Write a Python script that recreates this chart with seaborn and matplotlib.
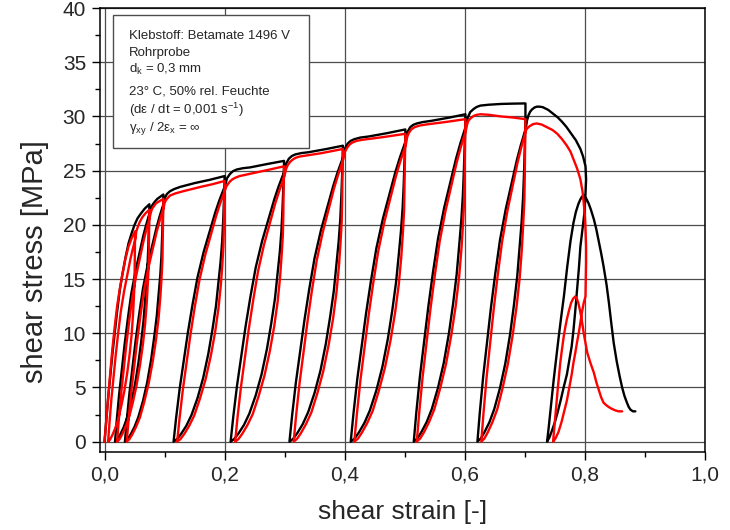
import matplotlib
matplotlib.use("Agg")
import matplotlib.pyplot as plt
import seaborn as sns
import pandas as pd
from matplotlib.patches import Rectangle
from matplotlib.ticker import MultipleLocator, FuncFormatter

# specimen 1 (black) - one continuous load / unload / reload path
# (one row per segment: initial loading, then unload, reload, plateau ...)
black_strain = [
    0.0, 0.003, 0.006, 0.0095, 0.013, 0.017, 0.021, 0.0255, 0.03, 0.035, 0.04, 0.045, 0.05, 0.055, 0.06, 0.067, 0.0747,
    0.0744, 0.0738, 0.0730, 0.0718, 0.0701, 0.0678, 0.0650, 0.0610, 0.0564, 0.0507, 0.0444, 0.0375, 0.0318, 0.0261, 0.0215, 0.0175,
    0.0204, 0.0244, 0.0289, 0.0335, 0.0387, 0.0444, 0.0513, 0.0587, 0.0644, 0.0690, 0.0718, 0.0736, 0.0753,
    0.077, 0.08, 0.084, 0.088, 0.093, 0.098,
    0.0977, 0.0970, 0.0961, 0.0948, 0.0929, 0.0903, 0.0871, 0.0826, 0.0775, 0.0711, 0.0641, 0.0564, 0.0500, 0.0436, 0.0385, 0.034,
    0.0372, 0.0417, 0.0468, 0.0519, 0.0577, 0.0641, 0.0718, 0.0801, 0.0865, 0.0916, 0.0948, 0.0967, 0.0986,
    0.101, 0.104, 0.109, 0.116, 0.126, 0.15, 0.175, 0.2,
    0.1996, 0.1987, 0.1975, 0.1958, 0.1932, 0.1898, 0.1856, 0.1796, 0.1728, 0.1643, 0.1550, 0.1448, 0.1363, 0.1278, 0.1210, 0.115,
    0.1193, 0.1252, 0.1320, 0.1388, 0.1465, 0.1550, 0.1652, 0.1762, 0.1847, 0.1915, 0.1958, 0.1983, 0.2009,
    0.204, 0.209, 0.214, 0.22, 0.23, 0.2425, 0.27, 0.299,
    0.2986, 0.2977, 0.2963, 0.2946, 0.2919, 0.2883, 0.2839, 0.2776, 0.2705, 0.2616, 0.2518, 0.2412, 0.2323, 0.2234, 0.2162, 0.210,
    0.2145, 0.2207, 0.2278, 0.2349, 0.2429, 0.2518, 0.2625, 0.2741, 0.2830, 0.2901, 0.2946, 0.2972, 0.2999,
    0.303, 0.307, 0.312, 0.318, 0.328, 0.34, 0.37, 0.397,
    0.3966, 0.3957, 0.3943, 0.3926, 0.3899, 0.3863, 0.3819, 0.3756, 0.3685, 0.3596, 0.3498, 0.3392, 0.3303, 0.3214, 0.3142, 0.308,
    0.3125, 0.3187, 0.3258, 0.3329, 0.3409, 0.3498, 0.3605, 0.3721, 0.3810, 0.3881, 0.3926, 0.3952, 0.3979,
    0.401, 0.405, 0.41, 0.416, 0.426, 0.44, 0.47, 0.501,
    0.5006, 0.4996, 0.4983, 0.4965, 0.4937, 0.4901, 0.4855, 0.4792, 0.4719, 0.4628, 0.4528, 0.4419, 0.4328, 0.4237, 0.4164, 0.410,
    0.4146, 0.4209, 0.4282, 0.4355, 0.4437, 0.4528, 0.4637, 0.4755, 0.4846, 0.4919, 0.4965, 0.4992, 0.5019,
    0.505, 0.509, 0.514, 0.52, 0.53, 0.545, 0.575, 0.601,
    0.6006, 0.5997, 0.5984, 0.5967, 0.5941, 0.5907, 0.5864, 0.5804, 0.5735, 0.5649, 0.5554, 0.5451, 0.5365, 0.5279, 0.5210, 0.515,
    0.5193, 0.5253, 0.5322, 0.5391, 0.5468, 0.5554, 0.5657, 0.5769, 0.5855, 0.5924, 0.5967, 0.5993, 0.6019,
    0.605, 0.609, 0.615, 0.62, 0.626, 0.64, 0.66, 0.68, 0.701,
    0.701, 0.6998, 0.6986, 0.6970, 0.6946, 0.6914, 0.6874, 0.6818, 0.6754, 0.6674, 0.6586, 0.6490, 0.6410, 0.6330, 0.6266, 0.621,
    0.6250, 0.6306, 0.6370, 0.6434, 0.6506, 0.6586, 0.6682, 0.6786, 0.6866, 0.6930, 0.6970, 0.6994, 0.7018,
    0.7035, 0.706, 0.709, 0.712, 0.716, 0.72, 0.725, 0.73, 0.739, 0.748, 0.755, 0.762, 0.769, 0.776, 0.785, 0.7925, 0.797, 0.801, 0.802, 0.801,
    0.8, 0.799, 0.796, 0.7925, 0.79, 0.787, 0.784, 0.781, 0.778, 0.774, 0.77, 0.765, 0.76, 0.755, 0.75, 0.745, 0.741, 0.737,
    0.7395, 0.742, 0.745, 0.748, 0.752, 0.756, 0.7605, 0.765, 0.7705, 0.776, 0.781, 0.785, 0.789, 0.792, 0.795, 0.798,
    0.802, 0.806, 0.81, 0.815, 0.819, 0.823, 0.827, 0.831, 0.836, 0.84, 0.844, 0.848, 0.853, 0.858, 0.862, 0.866, 0.870, 0.873, 0.876, 0.88, 0.884,
]
black_stress = [
    0.0, 2.0, 4.0, 6.0, 8.0, 10.0, 12.0, 14.0, 15.5, 17.0, 18.3, 19.2, 20.0, 20.6, 21.0, 21.5, 21.9,
    20.81, 19.71, 18.07, 16.43, 14.78, 13.14, 11.17, 9.20, 7.23, 5.26, 3.61, 2.19, 1.31, 0.66, 0.22, 0.0,
    1.97, 4.38, 6.68, 8.98, 11.28, 13.58, 15.66, 17.52, 18.94, 19.93, 20.48, 20.81, 21.13,
    21.55, 21.85, 22.15, 22.4, 22.6, 22.8,
    21.66, 20.52, 18.81, 17.10, 15.39, 13.68, 11.63, 9.58, 7.52, 5.47, 3.76, 2.28, 1.37, 0.68, 0.23, 0.0,
    2.05, 4.56, 6.95, 9.35, 11.74, 14.14, 16.30, 18.24, 19.72, 20.75, 21.32, 21.66, 22.0,
    22.55, 22.85, 23.1, 23.3, 23.5, 23.85, 24.15, 24.5,
    23.28, 22.05, 20.21, 18.38, 16.54, 14.70, 12.50, 10.29, 8.09, 5.88, 4.04, 2.45, 1.47, 0.74, 0.25, 0.0,
    2.21, 4.9, 7.47, 10.05, 12.62, 15.19, 17.52, 19.6, 21.19, 22.30, 22.91, 23.28, 23.64,
    24.3, 24.7, 24.95, 25.1, 25.22, 25.3, 25.6, 25.9,
    24.61, 23.31, 21.37, 19.43, 17.48, 15.54, 13.21, 10.88, 8.55, 6.22, 4.27, 2.59, 1.55, 0.78, 0.26, 0.0,
    2.33, 5.18, 7.90, 10.62, 13.34, 16.06, 18.52, 20.72, 22.40, 23.57, 24.22, 24.61, 24.99,
    25.7, 26.1, 26.35, 26.5, 26.62, 26.7, 27.0, 27.3,
    25.94, 24.57, 22.52, 20.48, 18.43, 16.38, 13.92, 11.47, 9.01, 6.55, 4.50, 2.73, 1.64, 0.82, 0.27, 0.0,
    2.46, 5.46, 8.33, 11.19, 14.06, 16.93, 19.52, 21.84, 23.61, 24.84, 25.53, 25.94, 26.34,
    27.1, 27.5, 27.75, 27.9, 28.05, 28.15, 28.45, 28.8,
    27.36, 25.92, 23.76, 21.6, 19.44, 17.28, 14.69, 12.10, 9.50, 6.91, 4.75, 2.88, 1.73, 0.86, 0.29, 0.0,
    2.59, 5.76, 8.78, 11.81, 14.83, 17.86, 20.59, 23.04, 24.91, 26.21, 26.93, 27.36, 27.79,
    28.6, 29.0, 29.22, 29.35, 29.48, 29.6, 29.9, 30.2,
    28.69, 27.18, 24.92, 22.65, 20.39, 18.12, 15.40, 12.68, 9.97, 7.25, 4.98, 3.02, 1.81, 0.91, 0.30, 0.0,
    2.72, 6.04, 9.21, 12.38, 15.55, 18.72, 21.59, 24.16, 26.12, 27.48, 28.24, 28.69, 29.14,
    29.9, 30.4, 30.7, 30.88, 31.0, 31.08, 31.15, 31.18, 31.2,
    29.8, 27.0, 24.75, 22.5, 20.25, 18.0, 15.3, 12.6, 9.9, 7.2, 4.95, 3.0, 1.8, 0.9, 0.3, 0.0,
    2.7, 6.0, 9.15, 12.3, 15.45, 18.6, 21.45, 24.0, 25.95, 27.3, 28.05, 28.5, 28.95,
    29.6, 30.1, 30.45, 30.65, 30.82, 30.9, 30.9, 30.85, 30.6, 30.2, 29.9, 29.5, 29.05, 28.5, 27.8, 27.0, 26.3, 25.4, 24.2, 22.9,
    21.9, 21.0, 19.6, 18.0, 16.0, 14.0, 12.1, 10.3, 8.8, 7.5, 6.2, 5.1, 3.9, 2.8, 1.8, 1.0, 0.4, 0.0,
    1.2, 2.5, 4.0, 5.7, 7.6, 9.5, 11.5, 13.4, 16.1, 18.5, 20.2, 21.2, 21.9, 22.3, 22.6, 22.7,
    22.45, 22.0, 21.4, 20.5, 19.6, 18.5, 17.4, 16.2, 14.5, 12.8, 10.9, 9.1, 7.4, 6.0, 5.0, 4.2, 3.6, 3.2, 2.95, 2.8, 2.8,
]

# specimen 2 (red)
red_strain = [
    0.0, 0.003, 0.006, 0.0095, 0.013, 0.017, 0.021, 0.0255, 0.03, 0.035, 0.04, 0.0455, 0.051,
    0.0508, 0.0506, 0.0503, 0.0499, 0.0488, 0.0474, 0.0452, 0.0420, 0.0380, 0.0330, 0.0276, 0.0222, 0.0173, 0.0128, 0.0092, 0.006,
    0.0083, 0.0114, 0.0150, 0.0186, 0.0227, 0.0272, 0.0326, 0.0384, 0.0429, 0.0465, 0.0488, 0.0501, 0.0515,
    0.053, 0.056, 0.059, 0.063, 0.068, 0.0747,
    0.0744, 0.0742, 0.0739, 0.0734, 0.0720, 0.0704, 0.0677, 0.0640, 0.0591, 0.0532, 0.0468, 0.0403, 0.0344, 0.0291, 0.0248, 0.021,
    0.0237, 0.0274, 0.0317, 0.0360, 0.0409, 0.0462, 0.0527, 0.0597, 0.0650, 0.0693, 0.0720, 0.0736, 0.0752,
    0.077, 0.079, 0.082, 0.086, 0.092, 0.098,
    0.0977, 0.0974, 0.0971, 0.0965, 0.0950, 0.0931, 0.0901, 0.0858, 0.0803, 0.0736, 0.0663, 0.0590, 0.0523, 0.0462, 0.0413, 0.037,
    0.0401, 0.0443, 0.0492, 0.0541, 0.0596, 0.0657, 0.0730, 0.0809, 0.0870, 0.0919, 0.0950, 0.0968, 0.0986,
    0.1, 0.102, 0.104, 0.109, 0.118, 0.131, 0.16, 0.18, 0.2,
    0.1996, 0.1992, 0.1988, 0.1980, 0.1961, 0.1937, 0.1897, 0.1842, 0.1771, 0.1684, 0.1589, 0.1494, 0.1408, 0.1329, 0.1265, 0.121,
    0.1250, 0.1305, 0.1368, 0.1431, 0.1502, 0.1581, 0.1676, 0.1779, 0.1858, 0.1921, 0.1961, 0.1984, 0.2008,
    0.203, 0.206, 0.209, 0.213, 0.218, 0.225, 0.25, 0.275, 0.299,
    0.2986, 0.2982, 0.2978, 0.2970, 0.2949, 0.2925, 0.2884, 0.2827, 0.2754, 0.2664, 0.2566, 0.2468, 0.2379, 0.2297, 0.2232, 0.2175,
    0.2216, 0.2273, 0.2338, 0.2403, 0.2477, 0.2558, 0.2656, 0.2762, 0.2843, 0.2909, 0.2949, 0.2974, 0.2998,
    0.302, 0.305, 0.309, 0.313, 0.318, 0.325, 0.36, 0.397,
    0.3966, 0.3962, 0.3958, 0.3950, 0.3929, 0.3904, 0.3863, 0.3806, 0.3732, 0.3642, 0.3544, 0.3445, 0.3355, 0.3273, 0.3207, 0.315,
    0.3191, 0.3248, 0.3314, 0.3380, 0.3453, 0.3535, 0.3634, 0.3740, 0.3822, 0.3888, 0.3929, 0.3954, 0.3978,
    0.4, 0.404, 0.408, 0.413, 0.42, 0.43, 0.465, 0.501,
    0.5006, 0.5002, 0.4997, 0.4989, 0.4968, 0.4942, 0.4900, 0.4840, 0.4764, 0.4670, 0.4568, 0.4466, 0.4373, 0.4288, 0.4220, 0.416,
    0.4203, 0.4262, 0.4330, 0.4398, 0.4475, 0.4560, 0.4662, 0.4772, 0.4857, 0.4925, 0.4968, 0.4993, 0.5019,
    0.504, 0.507, 0.511, 0.516, 0.524, 0.535, 0.57, 0.601,
    0.6006, 0.6002, 0.5998, 0.5990, 0.5970, 0.5945, 0.5905, 0.5848, 0.5775, 0.5686, 0.5589, 0.5492, 0.5403, 0.5322, 0.5257, 0.520,
    0.5241, 0.5297, 0.5362, 0.5427, 0.5500, 0.5581, 0.5678, 0.5783, 0.5864, 0.5929, 0.5970, 0.5994, 0.6018,
    0.604, 0.606, 0.61, 0.615, 0.62, 0.626, 0.64, 0.66, 0.68, 0.701,
    0.7006, 0.7003, 0.6999, 0.6992, 0.6973, 0.6951, 0.6915, 0.6863, 0.6797, 0.6716, 0.6628, 0.6540, 0.6459, 0.6385, 0.6327, 0.6275,
    0.6312, 0.6363, 0.6422, 0.6481, 0.6547, 0.6621, 0.6709, 0.6804, 0.6878, 0.6937, 0.6973, 0.6995, 0.7017,
    0.704, 0.708, 0.714, 0.72, 0.728, 0.737, 0.746, 0.754, 0.762, 0.77, 0.776, 0.781, 0.787, 0.7925, 0.796, 0.798, 0.8, 0.801, 0.802, 0.802, 0.8015, 0.801,
    0.798, 0.795, 0.7925, 0.79, 0.787, 0.784, 0.781, 0.778, 0.774, 0.77, 0.765, 0.761, 0.756, 0.751, 0.747,
    0.749, 0.751, 0.753, 0.755, 0.757, 0.759, 0.762, 0.765, 0.7675, 0.770, 0.7735, 0.777, 0.7805, 0.784,
    0.7865, 0.789, 0.7915, 0.794, 0.796, 0.798, 0.801, 0.804, 0.809, 0.815, 0.819, 0.823, 0.827, 0.831, 0.837, 0.8425, 0.85, 0.856, 0.862,
]
red_stress = [
    0.0, 2.0, 4.0, 6.3, 8.5, 10.6, 12.5, 14.1, 15.5, 16.9, 18.0, 18.8, 19.4,
    18.43, 17.46, 16.01, 14.55, 13.10, 11.64, 9.89, 8.15, 6.40, 4.66, 3.20, 1.94, 1.16, 0.58, 0.19, 0.0,
    1.75, 3.88, 5.92, 7.95, 9.99, 12.03, 13.87, 15.52, 16.78, 17.65, 18.14, 18.43, 18.72,
    19.4, 19.9, 20.3, 20.7, 21.05, 21.4,
    20.33, 19.26, 17.66, 16.05, 14.45, 12.84, 10.91, 8.99, 7.06, 5.14, 3.53, 2.14, 1.28, 0.64, 0.21, 0.0,
    1.93, 4.28, 6.53, 8.77, 11.02, 13.27, 15.30, 17.12, 18.51, 19.47, 20.01, 20.33, 20.65,
    21.1, 21.45, 21.7, 22.0, 22.2, 22.4,
    21.28, 20.16, 18.48, 16.8, 15.12, 13.44, 11.42, 9.41, 7.39, 5.38, 3.70, 2.24, 1.34, 0.67, 0.22, 0.0,
    2.02, 4.48, 6.83, 9.18, 11.54, 13.89, 16.02, 17.92, 19.38, 20.38, 20.94, 21.28, 21.62,
    22.0, 22.25, 22.4, 22.7, 22.9, 23.1, 23.5, 23.75, 24.05,
    22.85, 21.65, 19.84, 18.04, 16.23, 14.43, 12.27, 10.10, 7.94, 5.77, 3.97, 2.41, 1.44, 0.72, 0.24, 0.0,
    2.16, 4.81, 7.34, 9.86, 12.39, 14.91, 17.20, 19.24, 20.80, 21.89, 22.49, 22.85, 23.21,
    23.55, 23.8, 24.0, 24.2, 24.35, 24.5, 24.8, 25.1, 25.4,
    24.13, 22.86, 20.96, 19.05, 17.15, 15.24, 12.95, 10.67, 8.38, 6.10, 4.19, 2.54, 1.52, 0.76, 0.25, 0.0,
    2.29, 5.08, 7.75, 10.41, 13.08, 15.75, 18.16, 20.32, 21.97, 23.11, 23.75, 24.13, 24.51,
    25.1, 25.5, 25.8, 26.0, 26.18, 26.3, 26.6, 27.0,
    25.65, 24.3, 22.28, 20.25, 18.23, 16.2, 13.77, 11.34, 8.91, 6.48, 4.46, 2.7, 1.62, 0.81, 0.27, 0.0,
    2.43, 5.4, 8.24, 11.07, 13.91, 16.74, 19.31, 21.6, 23.36, 24.57, 25.25, 25.65, 26.06,
    26.7, 27.1, 27.4, 27.6, 27.75, 27.85, 28.1, 28.4,
    26.98, 25.56, 23.43, 21.3, 19.17, 17.04, 14.48, 11.93, 9.37, 6.82, 4.69, 2.84, 1.70, 0.85, 0.28, 0.0,
    2.56, 5.68, 8.66, 11.64, 14.63, 17.61, 20.31, 22.72, 24.57, 25.84, 26.55, 26.98, 27.41,
    28.1, 28.5, 28.8, 29.0, 29.15, 29.25, 29.5, 29.75,
    28.26, 26.78, 24.54, 22.31, 20.08, 17.85, 15.17, 12.5, 9.82, 7.14, 4.91, 2.98, 1.79, 0.89, 0.30, 0.0,
    2.68, 5.95, 9.07, 12.2, 15.32, 18.45, 21.27, 23.8, 25.73, 27.07, 27.82, 28.26, 28.71,
    29.3, 29.6, 29.85, 30.05, 30.15, 30.2, 30.15, 30.0, 29.9, 29.75,
    28.26, 26.78, 24.54, 22.31, 20.08, 17.85, 15.17, 12.5, 9.82, 7.14, 4.91, 2.98, 1.79, 0.89, 0.30, 0.0,
    2.68, 5.95, 9.07, 12.2, 15.32, 18.45, 21.27, 23.8, 25.73, 27.07, 27.82, 28.26, 28.71,
    28.9, 29.1, 29.3, 29.35, 29.25, 29.0, 28.75, 28.4, 27.9, 27.3, 26.75, 26.05, 25.2, 24.2, 23.1, 22.05, 20.8, 19.6, 18.0, 16.5, 15.0, 13.4,
    12.8, 11.9, 11.0, 10.1, 9.2, 8.2, 7.3, 6.2, 5.0, 3.8, 2.7, 1.8, 0.9, 0.3, 0.0,
    1.2, 2.5, 3.8, 5.0, 6.2, 7.3, 8.6, 9.8, 10.6, 11.3, 12.1, 12.8, 13.2, 13.4,
    13.2, 12.8, 12.2, 11.5, 10.8, 10.0, 9.1, 8.2, 7.3, 6.35, 5.5, 4.8, 4.1, 3.6, 3.3, 3.1, 2.9, 2.8, 2.8,
]

info_lines = [
    "Klebstoff: Betamate 1496 V",
    "Rohrprobe",
    "d$_{k}$ = 0,3 mm",
    "23° C, 50% rel. Feuchte",
    "(dε / dt = 0,001 s$^{-1}$)",
    "γ$_{xy}$ / 2ε$_{x}$ = ∞",
]

sns.set_theme(style="white")
plt.rcParams["font.family"] = ["Liberation Sans", "DejaVu Sans"]
plt.rcParams["mathtext.fontset"] = "custom"
plt.rcParams["mathtext.rm"] = "Liberation Sans"
plt.rcParams["mathtext.it"] = "Liberation Sans"
plt.rcParams["mathtext.default"] = "regular"

fig = plt.figure(figsize=(7.3, 5.3), dpi=100)
ax = fig.add_axes([100 / 730, 78 / 530, 605 / 730, 444 / 530])

df_black = pd.DataFrame({"strain": black_strain, "stress": black_stress})
df_red = pd.DataFrame({"strain": red_strain, "stress": red_stress})
for df, col, z in [(df_black, "black", 3), (df_red, "#ff0000", 4)]:
    sns.lineplot(data=df, x="strain", y="stress", sort=False, estimator=None,
                 color=col, lw=1.7, ax=ax, zorder=z,
                 solid_joinstyle="round", solid_capstyle="round")

ax.set_xlim(-0.0075, 1.0)
ax.set_ylim(-0.95, 40)
ax.xaxis.set_major_locator(MultipleLocator(0.2))
ax.xaxis.set_minor_locator(MultipleLocator(0.1))
ax.yaxis.set_major_locator(MultipleLocator(5))
ax.yaxis.set_minor_locator(MultipleLocator(2.5))
ax.xaxis.set_major_formatter(FuncFormatter(lambda v, p: f"{v:.1f}".replace(".", ",")))
ax.yaxis.set_major_formatter(FuncFormatter(lambda v, p: f"{v:.0f}"))
ax.tick_params(which="both", direction="out", bottom=True, left=True,
               top=False, right=False, color="black", width=1)
ax.tick_params(which="major", length=6, labelsize=15, pad=4)
ax.tick_params(which="minor", length=3.5)
ax.grid(True, which="major", color="0.3", lw=0.9)
ax.set_axisbelow(True)
for s in ax.spines.values():
    s.set_color("black")
    s.set_linewidth(1.1)

ax.set_xlabel("shear strain [-]", fontsize=19, labelpad=11)
ax.set_ylabel("shear stress [MPa]", fontsize=21)
ax.yaxis.set_label_coords(-0.085, 0.43)

# info box
ax.add_patch(Rectangle((0.0215, 0.685), 0.324, 0.2995, transform=ax.transAxes,
                       facecolor="white", edgecolor="0.3", lw=1, zorder=5))
ys = [0.9295, 0.8926, 0.8529, 0.8041, 0.7613, 0.7236]
for t, yy in zip(info_lines, ys):
    ax.text(0.048, yy, t, transform=ax.transAxes, fontsize=9.5,
            va="baseline", ha="left", zorder=6)

fig.savefig("out.png", dpi=100)
